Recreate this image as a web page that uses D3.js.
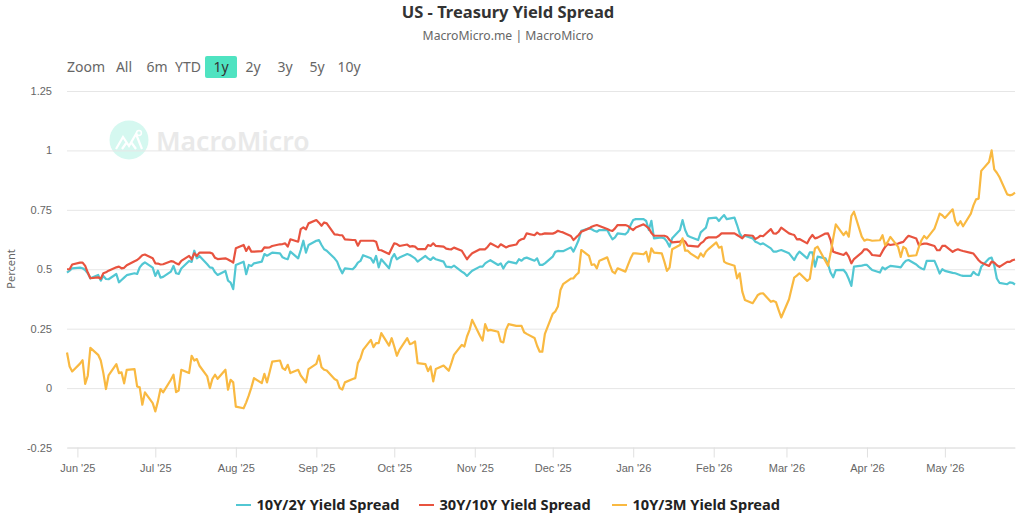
<!DOCTYPE html>
<html>
<head>
<meta charset="utf-8">
<script src="https://cdnjs.cloudflare.com/ajax/libs/d3/7.8.5/d3.min.js"></script>
<style>
  html, body { margin: 0; padding: 0; background: #fff; }
  svg { display: block; font-family: "Noto Sans", "Open Sans", sans-serif; }
</style>
</head>
<body>
<svg id="chart" width="1027" height="518"></svg>
<script>
// Daily readings, one row per trading week; the first row starts on Wed 28 May 2025.
const firstDay = "2025-05-28";
const lastDay = "2026-05-28";

const spread10y2y = [
  .486,.494,.504,
  .507,.504,.497,.483,.462,
  .476,.452,.472,.459,.458,
  .480,.445,.455,.465,.475,
  .483,.480,.508,.521,.529,
  .507,.472,.494,.465,.468,
  .490,.514,.483,.480,.503,
  .535,.531,.578,.546,.556,
  .521,.508,.506,.487,.476,
  .493,.452,.444,.416,.518,
  .532,.479,.518,.514,.525,
  .532,.564,.557,.563,.570,
  .567,.550,.545,.542,.574,
  .546,.581,.620,.570,.602,
  .620,.623,.602,.584,.578,
  .546,.532,.504,.483,.504,
  .500,.511,.528,.535,.559,
  .546,.528,.556,.508,.542,
  .504,.546,.564,.542,.549,
  .564,.560,.553,.546,.532,
  .556,.546,.539,.550,.542,
  .532,.511,.510,.508,.515,
  .490,.483,.472,.483,.494,
  .511,.511,.525,.532,.538,
  .518,.525,.503,.522,.532,
  .525,.542,.536,.546,.549,
  .536,.546,.518,.518,.525,
  .553,.573,.577,.576,.576,
  .592,.574,.598,.623,.662,
  .672,.668,.662,.658,.665,
  .665,.644,.626,.634,.651,
  .647,.658,.686,.707,.711,
  .711,.703,.665,.704,.630,
  .634,.630,.616,.595,.630,
  .665,.707,.665,.641,.636,
  .623,.655,.665,.675,.714,
  .717,.703,.717,.728,.711,
  .717,.686,.651,.634,.641,
  .630,.616,.611,.605,.609,
  .588,.574,.574,.578,.581,
  .567,.553,.539,.560,.574,
  .546,.571,.571,.511,.553,
  .546,.522,.486,.466,.496,
  .497,.483,.459,.430,.511,
  .515,.518,.518,.507,.497,
  .486,.508,.500,.508,.514,
  .510,.508,.524,.536,.539,
  .520,.510,.503,.499,.535,
  .535,.510,.482,.500,.493,
  .485,.483,.479,.475,.472,
  .472,.489,.479,.475,.510,
  .545,.549,.517,.461,.443,
  .437,.445,.443,.436
];

const spread30y10y = [
  .500,.500,.520,
  .528,.528,.514,.486,.462,
  .466,.460,.483,.487,.494,
  .508,.511,.504,.506,.517,
  .534,.539,.548,.559,.562,
  .546,.525,.524,.520,.521,
  .534,.532,.525,.520,.535,
  .556,.542,.567,.556,.570,
  .570,.570,.566,.548,.543,
  .546,.541,.535,.528,.588,
  .602,.577,.595,.574,.574,
  .576,.592,.591,.592,.598,
  .605,.606,.609,.595,.626,
  .616,.669,.676,.668,.693,
  .707,.696,.683,.697,.693,
  .647,.646,.643,.643,.626,
  .623,.623,.599,.620,.620,
  .620,.620,.616,.581,.580,
  .564,.587,.609,.606,.598,
  .604,.595,.597,.595,.585,
  .585,.602,.598,.609,.598,
  .595,.587,.585,.584,.591,
  .578,.560,.542,.556,.567,
  .584,.584,.584,.595,.609,
  .592,.605,.599,.592,.597,
  .604,.620,.626,.629,.651,
  .643,.654,.647,.648,.651,
  .650,.654,.662,.658,.655,
  .640,.623,.634,.644,.658,
  .672,.679,.683,.686,.682,
  .669,.664,.661,.672,.686,
  .686,.682,.672,.665,.676,
  .689,.681,.672,.653,.641,
  .641,.641,.637,.623,.613,
  .616,.623,.616,.599,.598,
  .595,.609,.616,.630,.634,
  .634,.641,.651,.651,.651,
  .651,.644,.637,.630,.644,
  .641,.627,.633,.641,.639,
  .669,.651,.650,.658,.675,
  .651,.647,.644,.626,.627,
  .609,.630,.644,.630,.633,
  .650,.651,.623,.574,.570,
  .560,.570,.553,.525,.543,
  .570,.584,.584,.574,.560,
  .556,.576,.594,.606,.602,
  .608,.612,.615,.629,.641,
  .629,.601,.605,.608,.608,
  .598,.580,.580,.598,.599,
  .573,.580,.584,.580,.577,
  .569,.566,.552,.538,.528,
  .514,.532,.528,.517,.510,
  .531,.531,.538,.541
];

const spread10y3m = [
  .150,.091,.070,
  .103,.117,.018,.052,.169,
  .140,.116,.063,-.004,.053,
  .101,.063,.066,.020,.077,
  .080,.007,.003,-.070,-.018,
  -.063,-.098,-.056,-.004,-.018,
  .035,.056,-.017,-.010,.077,
  .063,.136,.116,.122,.094,
  .049,.000,.039,.056,.039,
  .077,-.007,.035,.024,-.078,
  -.085,-.060,-.031,.003,.042,
  .021,.060,.024,.067,.111,
  .116,.084,.077,.098,.063,
  .077,.053,.039,.024,.080,
  .102,.137,.088,.077,.074,
  .038,.032,.000,-.006,.024,
  .038,.042,.105,.126,.161,
  .203,.172,.189,.189,.231,
  .179,.210,.175,.136,.161,
  .210,.185,.189,.196,.105,
  .101,.071,.091,.028,.080,
  .095,.084,.073,.105,.140,
  .182,.175,.217,.245,.287,
  .220,.200,.269,.242,.245,
  .237,.196,.192,.245,.269,
  .262,.262,.262,.235,.228,
  .211,.178,.153,.153,.228,
  .312,.322,.343,.413,.437,
  .461,.462,.476,.486,.581,
  .556,.518,.521,.504,.536,
  .550,.518,.490,.483,.504,
  .490,.518,.546,.567,.567,
  .563,.574,.532,.588,.570,
  .567,.532,.493,.507,.584,
  .602,.630,.578,.578,.567,
  .546,.567,.553,.574,.585,
  .613,.591,.595,.532,.525,
  .515,.462,.483,.406,.371,
  .357,.374,.392,.398,.399,
  .363,.367,.361,.328,.297,
  .374,.420,.465,.473,.483,
  .451,.460,.532,.588,.595,
  .535,.515,.567,.630,.689,
  .644,.658,.637,.724,.742,
  .637,.620,.625,.623,.620,
  .622,.643,.601,.615,.636,
  .594,.552,.594,.587,.555,
  .559,.594,.622,.640,.629,
  .671,.702,.734,.727,.716,
  .752,.702,.685,.702,.681,
  .734,.769,.794,.797,.914,
  .951,1.000,.920,.906,.888,
  .815,.811,.814,.822
];

const seriesNames = ["10Y/2Y Yield Spread", "30Y/10Y Yield Spread", "10Y/3M Yield Spread"];
const seriesColors = ["#52c7d3", "#e8533f", "#f9b941"];
const seriesValues = [spread10y2y, spread30y10y, spread10y3m];

const yTicks = [-0.25, 0, 0.25, 0.5, 0.75, 1, 1.25];
const monthTicks = ["2025-06-01","2025-07-01","2025-08-01","2025-09-01","2025-10-01","2025-11-01",
                    "2025-12-01","2026-01-01","2026-02-01","2026-03-01","2026-04-01","2026-05-01"];
const rangeButtons = ["All", "6m", "YTD", "1y", "2y", "3y", "5y", "10y"];
const rangeButtonCentres = [124, 157, 188, 221, 253, 285, 317, 349];
const activeRange = "1y";

const parseDay = d3.utcParse("%Y-%m-%d");
const weekdays = d3.utcDay.range(parseDay(firstDay), d3.utcDay.offset(parseDay(lastDay), 1))
  .filter(d => d.getUTCDay() % 6 !== 0);

const svg = d3.select("#chart");
const plot = { left: 67, right: 1015, top: 91, bottom: 447.5 };

const x = d3.scaleUtc().domain([parseDay(firstDay), parseDay(lastDay)]).range([plot.left, plot.right]);
const y = d3.scaleLinear().domain([-0.25, 1.25]).range([plot.bottom, plot.top]);

// Titles
svg.append("text").attr("x", 508).attr("y", 18).attr("text-anchor", "middle")
  .attr("font-size", 16.5).attr("font-weight", 700).attr("fill", "#333")
  .text("US - Treasury Yield Spread");
svg.append("text").attr("x", 508).attr("y", 40).attr("text-anchor", "middle")
  .attr("font-size", 12.2).attr("fill", "#666")
  .text("MacroMicro.me | MacroMicro");

// Range selector
svg.append("text").attr("x", 67).attr("y", 72).attr("font-size", 14).attr("fill", "#666").text("Zoom");
const buttons = svg.append("g").selectAll("g").data(rangeButtons).join("g")
  .attr("transform", (d, i) => `translate(${rangeButtonCentres[i]},0)`);
buttons.filter(d => d === activeRange).append("rect")
  .attr("x", -16).attr("y", 56).attr("width", 32).attr("height", 22).attr("rx", 2)
  .attr("fill", "#4fe3c1");
buttons.append("text").attr("y", 72).attr("text-anchor", "middle")
  .attr("font-size", 14).attr("fill", d => d === activeRange ? "#333" : "#666").text(d => d);

// Faint brand mark behind the plot
const mark = svg.append("g").attr("transform", "translate(129,140)");
mark.append("circle").attr("r", 19.5).attr("fill", "#d5f8f0");
mark.append("path").attr("d", "M-13,9 L-6,-3 L0,6 L7,-6 L13,9 M-7,9 L-2,2 M2,2 L7,9")
  .attr("fill", "none").attr("stroke", "#fff").attr("stroke-width", 2.2);
mark.append("circle").attr("cx", 10).attr("cy", -7).attr("r", 2.4)
  .attr("fill", "none").attr("stroke", "#fff").attr("stroke-width", 1.5);
svg.append("text").attr("x", 156).attr("y", 151).attr("font-size", 26.5).attr("font-weight", 600)
  .attr("fill", "#e9e9e9").text("MacroMicro");

// Y axis with gridlines
const yAxis = svg.append("g").attr("transform", `translate(${plot.left},0)`)
  .call(d3.axisLeft(y).tickValues(yTicks).tickFormat(d => String(d))
    .tickSize(-(plot.right - plot.left)).tickPadding(15));
yAxis.select(".domain").remove();
yAxis.selectAll("line").attr("stroke", "#e6e6e6");
yAxis.selectAll("text").attr("font-size", 11).attr("fill", "#666").attr("font-family", "inherit");

svg.append("text").attr("transform", "translate(15,269) rotate(-90)").attr("text-anchor", "middle")
  .attr("font-size", 11).attr("fill", "#666").text("Percent");

// X axis with month ticks
const xAxis = svg.append("g").attr("transform", `translate(0,${plot.bottom})`)
  .call(d3.axisBottom(x).tickValues(monthTicks.map(parseDay))
    .tickFormat(d3.utcFormat("%b '%y")).tickSize(10).tickPadding(7).tickSizeOuter(0));
xAxis.select(".domain").attr("stroke", "#e0e0e0");
xAxis.selectAll("line").attr("stroke", "#e0e0e0");
xAxis.selectAll("text").attr("font-size", 11).attr("fill", "#666").attr("font-family", "inherit");

// Series lines
const line = d3.line().x((d, i) => x(weekdays[i])).y(d => y(d));
svg.append("g").selectAll("path").data(seriesValues).join("path")
  .attr("d", line).attr("fill", "none")
  .attr("stroke", (d, i) => seriesColors[i]).attr("stroke-width", 2.2)
  .attr("stroke-linejoin", "round");

// Legend
const legendSwatchX = [236, 419, 612];
const legend = svg.append("g").selectAll("g").data(seriesNames).join("g")
  .attr("transform", (d, i) => `translate(${legendSwatchX[i]},505)`);
legend.append("line").attr("x2", 15).attr("stroke", (d, i) => seriesColors[i]).attr("stroke-width", 2);
legend.append("text").attr("x", 20.5).attr("y", 5).attr("font-size", 14.6).attr("font-weight", 700)
  .attr("fill", "#222").text(d => d);
</script>
</body>
</html>
